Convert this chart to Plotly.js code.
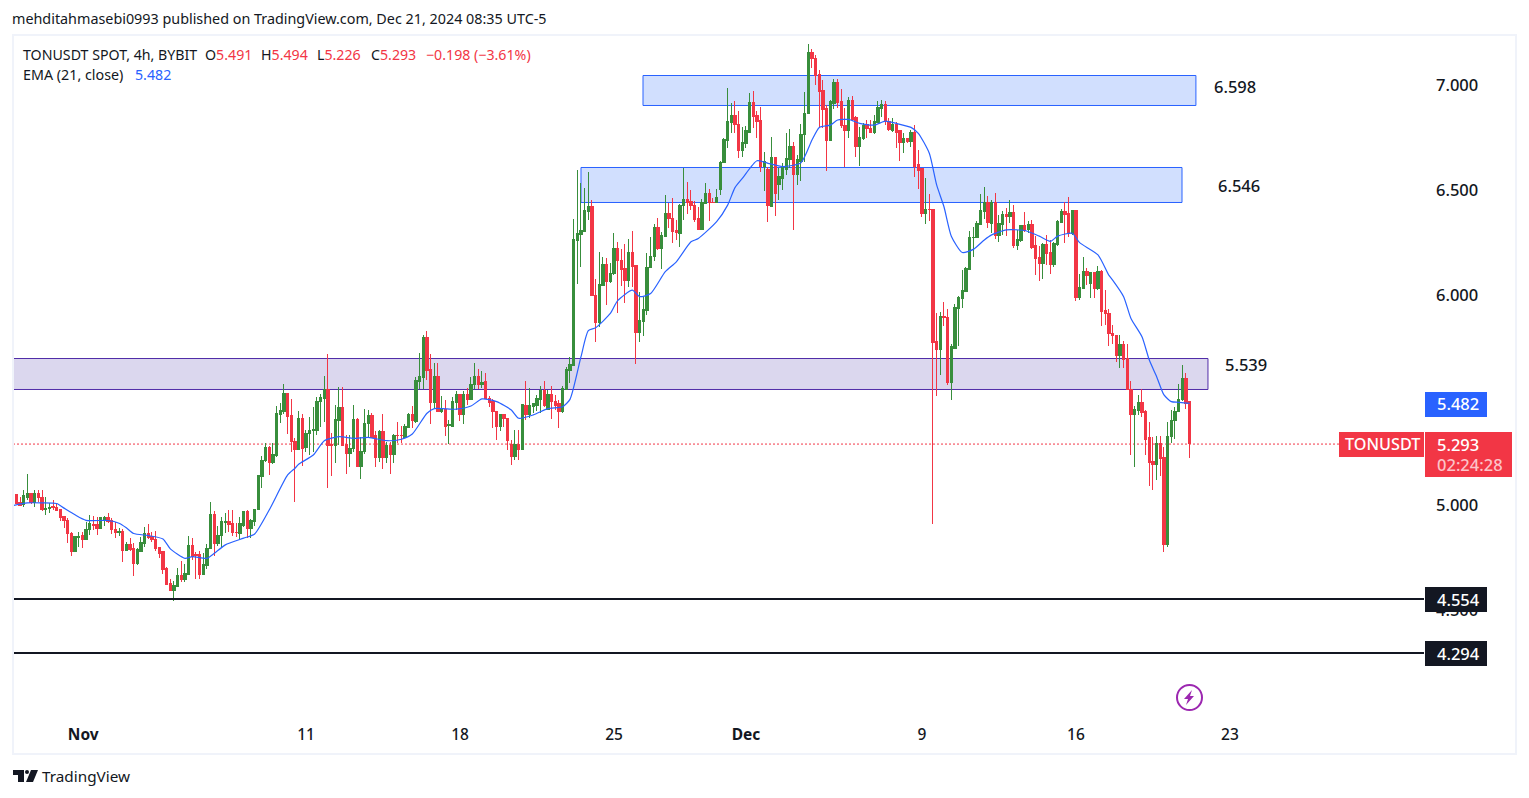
<!DOCTYPE html>
<html>
<head>
<meta charset="utf-8">
<script src="https://cdn.plot.ly/plotly-3.0.1.min.js"></script>
<style>
	html, body { margin: 0; padding: 0; background: #fff; overflow: hidden; }
	.trace.boxes path { shape-rendering: crispEdges; }
</style>
</head>
<body>
<div id="chart"></div>
<script>
// TONUSDT 4h candles
const firstBar = Date.UTC(2024, 9, 28, 16);
const barHours = 4;

const high = [
	5.077,5.053,5.037,5.072,5.148,5.056,5.069,5.072,5.069,5.037,
	5.008,5.024,5.008,4.980,4.948,4.937,4.869,4.850,4.873,4.873,
	4.921,4.951,4.948,4.942,4.945,4.948,4.964,4.937,4.921,4.889,
	4.885,4.826,4.842,4.818,4.793,4.846,4.894,4.910,4.873,4.875,
	4.802,4.783,4.704,4.646,4.637,4.700,4.732,4.720,4.853,4.842,
	4.777,4.783,4.770,4.815,5.015,4.969,4.900,4.945,4.962,4.977,
	4.977,4.916,4.945,4.973,4.977,4.932,4.980,5.143,5.231,5.297,
	5.281,5.294,5.469,5.484,5.577,5.535,5.504,5.318,5.446,5.434,
	5.357,5.418,5.468,5.516,5.529,5.614,5.719,5.341,5.476,5.564,
	5.564,5.333,5.333,5.476,5.413,5.322,5.456,5.452,5.437,5.354,
	5.357,5.433,5.302,5.299,5.338,5.395,5.376,5.384,5.440,5.472,
	5.611,5.725,5.810,5.829,5.719,5.675,5.675,5.519,5.500,5.405,
	5.513,5.543,5.524,5.543,5.556,5.611,5.678,5.646,5.640,5.630,
	5.519,5.503,5.449,5.433,5.430,5.416,5.310,5.357,5.357,5.479,
	5.591,5.556,5.484,5.524,5.567,5.591,5.548,5.567,5.524,5.500,
	5.567,5.656,5.706,6.360,6.595,6.531,6.511,6.584,6.452,6.074,
	6.204,6.179,6.176,6.150,6.293,6.250,6.219,6.242,6.265,6.304,
	6.142,6.016,5.992,6.198,6.277,6.338,6.365,6.301,6.476,6.436,
	6.463,6.357,6.433,6.607,6.536,6.500,6.447,6.420,6.455,6.531,
	6.507,6.460,6.507,6.639,6.746,6.988,6.912,6.923,6.877,6.801,
	6.804,6.960,6.971,6.877,6.893,6.682,6.611,6.754,6.658,6.603,
	6.627,6.770,6.790,6.730,6.666,6.814,6.968,7.195,7.170,7.143,
	7.071,7.024,6.905,6.928,7.030,7.027,6.979,6.889,6.944,6.947,
	6.852,6.798,6.817,6.833,6.833,6.857,6.924,6.928,6.924,6.841,
	6.841,6.825,6.786,6.770,6.746,6.786,6.809,6.690,6.606,6.555,
	6.481,6.410,5.913,5.920,5.967,5.935,5.767,5.958,5.996,6.120,
	6.132,6.305,6.323,6.351,6.481,6.513,6.472,6.453,6.485,6.383,
	6.399,6.413,6.453,6.429,6.310,6.334,6.394,6.350,6.358,6.281,
	6.231,6.246,6.286,6.262,6.254,6.358,6.408,6.442,6.465,6.405,
	6.405,6.100,6.180,6.127,6.107,6.107,6.139,6.120,6.024,5.932,
	5.857,5.809,5.809,5.781,5.766,5.589,5.471,5.523,5.550,5.452,
	5.395,5.325,5.328,5.328,5.278,5.395,5.452,5.468,5.576,5.666,5.628,5.494
];
const low = [
	5.005,5.005,4.996,4.992,5.024,5.005,4.992,5.015,4.973,4.954,
	4.964,4.977,4.969,4.926,4.888,4.821,4.758,4.777,4.802,4.794,
	4.831,4.858,4.881,4.858,4.885,4.900,4.913,4.862,4.843,4.853,
	4.729,4.780,4.783,4.662,4.716,4.777,4.802,4.840,4.826,4.783,
	4.748,4.672,4.618,4.589,4.545,4.608,4.634,4.635,4.667,4.739,
	4.646,4.646,4.667,4.694,4.789,4.758,4.805,4.799,4.866,4.869,
	4.850,4.846,4.834,4.897,4.842,4.843,4.900,4.977,5.081,5.205,
	5.143,5.196,5.227,5.392,5.434,5.338,5.254,5.016,5.262,5.186,
	5.253,5.238,5.254,5.333,5.373,5.397,5.083,5.140,5.202,5.286,
	5.281,5.148,5.183,5.254,5.180,5.124,5.243,5.322,5.322,5.183,
	5.207,5.172,5.199,5.148,5.202,5.297,5.294,5.319,5.365,5.365,
	5.389,5.551,5.551,5.595,5.386,5.460,5.445,5.440,5.329,5.291,
	5.373,5.452,5.402,5.386,5.476,5.500,5.552,5.551,5.556,5.503,
	5.465,5.368,5.310,5.354,5.373,5.262,5.191,5.214,5.214,5.262,
	5.405,5.413,5.437,5.449,5.440,5.465,5.452,5.408,5.452,5.368,
	5.437,5.548,5.579,5.662,6.052,6.135,6.301,6.357,5.996,5.777,
	5.849,6.047,5.952,6.055,6.095,5.916,6.042,5.963,6.039,6.036,
	5.671,5.777,5.804,5.904,6.127,6.163,6.214,6.123,6.274,6.317,
	6.249,6.262,6.230,6.357,6.385,6.404,6.349,6.314,6.314,6.436,
	6.354,6.436,6.436,6.476,6.627,6.701,6.769,6.769,6.652,6.655,
	6.700,6.776,6.796,6.746,6.587,6.496,6.349,6.420,6.377,6.452,
	6.500,6.571,6.603,6.309,6.524,6.543,6.635,6.862,7.079,7.000,
	6.798,6.793,6.590,6.735,6.885,6.889,6.793,6.608,6.746,6.836,
	6.655,6.614,6.738,6.749,6.770,6.765,6.817,6.846,6.809,6.782,
	6.778,6.700,6.638,6.678,6.722,6.706,6.563,6.505,6.373,6.338,
	6.352,4.910,5.520,5.620,5.850,5.572,5.501,5.742,5.758,5.939,
	6.015,6.120,6.180,6.270,6.332,6.361,6.318,6.294,6.266,6.250,
	6.286,6.283,6.342,6.223,6.212,6.254,6.302,6.294,6.218,6.096,
	6.067,6.078,6.143,6.100,6.135,6.235,6.342,6.246,6.278,6.286,
	5.972,5.977,6.027,6.048,5.986,5.986,6.024,5.850,5.858,5.758,
	5.766,5.682,5.652,5.652,5.549,5.238,5.182,5.430,5.420,5.238,
	5.090,5.071,5.119,5.138,4.776,4.801,5.297,5.314,5.443,5.497,5.457,5.226
];
const open = [
	5.008,5.048,5.013,5.000,5.037,5.056,5.012,5.053,5.037,4.977,
	4.983,4.991,4.989,4.977,4.943,4.927,4.866,4.778,4.846,4.853,
	4.834,4.881,4.908,4.908,4.886,4.932,4.942,4.924,4.885,4.869,
	4.872,4.781,4.810,4.791,4.720,4.780,4.815,4.866,4.850,4.837,
	4.799,4.777,4.696,4.624,4.591,4.612,4.662,4.646,4.669,4.805,
	4.762,4.762,4.667,4.710,4.791,4.953,4.818,4.853,4.915,4.919,
	4.910,4.870,4.862,4.904,4.967,4.886,4.921,4.977,5.135,5.210,
	5.275,5.202,5.234,5.429,5.445,5.529,5.424,5.304,5.265,5.410,
	5.275,5.338,5.354,5.357,5.491,5.506,5.551,5.286,5.283,5.400,
	5.465,5.287,5.246,5.267,5.405,5.183,5.253,5.386,5.424,5.329,
	5.224,5.352,5.227,5.281,5.238,5.333,5.333,5.322,5.370,5.433,
	5.397,5.586,5.605,5.798,5.643,5.487,5.611,5.443,5.457,5.378,
	5.376,5.489,5.524,5.429,5.524,5.500,5.572,5.614,5.576,5.586,
	5.506,5.492,5.445,5.376,5.429,5.413,5.287,5.233,5.287,5.262,
	5.476,5.432,5.468,5.472,5.500,5.543,5.457,5.524,5.495,5.481,
	5.443,5.548,5.640,5.662,6.258,6.290,6.304,6.396,6.423,5.999,
	5.871,6.047,6.146,6.066,6.100,6.223,6.166,6.128,6.071,6.204,
	6.138,5.819,5.876,5.928,6.130,6.182,6.319,6.223,6.277,6.390,
	6.366,6.306,6.295,6.425,6.457,6.447,6.428,6.365,6.314,6.438,
	6.485,6.442,6.439,6.504,6.630,6.738,6.822,6.857,6.814,6.690,
	6.719,6.776,6.915,6.857,6.830,6.611,6.598,6.423,6.655,6.524,
	6.557,6.598,6.646,6.705,6.576,6.638,6.762,6.862,7.157,7.128,
	7.051,6.976,6.889,6.735,6.914,7.014,6.919,6.809,6.781,6.924,
	6.843,6.705,6.746,6.812,6.795,6.776,6.820,6.890,6.905,6.828,
	6.782,6.814,6.781,6.725,6.743,6.730,6.776,6.619,6.600,6.387,
	6.409,6.408,5.777,5.739,5.897,5.891,5.582,5.747,5.934,5.983,
	6.015,6.121,6.272,6.272,6.334,6.396,6.442,6.342,6.442,6.281,
	6.334,6.381,6.372,6.391,6.234,6.258,6.329,6.310,6.334,6.234,
	6.177,6.148,6.242,6.200,6.143,6.240,6.343,6.396,6.386,6.294,
	6.400,5.986,6.029,6.110,6.053,6.105,6.029,6.110,5.924,5.913,
	5.817,5.809,5.711,5.762,5.696,5.549,5.430,5.452,5.490,5.443,
	5.319,5.205,5.195,5.295,5.224,4.814,5.324,5.400,5.443,5.500,5.604,5.491
];
const close = [
	5.048,5.008,4.999,5.043,5.056,5.013,5.053,5.034,4.977,4.985,
	4.989,4.986,4.973,4.940,4.926,4.862,4.778,4.850,4.851,4.834,
	4.885,4.910,4.904,4.886,4.939,4.942,4.921,4.881,4.867,4.873,
	4.781,4.810,4.786,4.720,4.786,4.819,4.866,4.843,4.834,4.794,
	4.770,4.691,4.620,4.591,4.615,4.662,4.643,4.672,4.805,4.754,
	4.758,4.667,4.715,4.794,4.953,4.818,4.856,4.919,4.919,4.907,
	4.869,4.867,4.910,4.967,4.886,4.924,4.980,5.138,5.211,5.275,
	5.202,5.239,5.434,5.448,5.529,5.421,5.300,5.265,5.410,5.270,
	5.342,5.357,5.360,5.495,5.510,5.551,5.283,5.283,5.405,5.465,
	5.281,5.246,5.270,5.405,5.183,5.257,5.389,5.424,5.322,5.224,
	5.352,5.227,5.281,5.238,5.333,5.330,5.330,5.376,5.433,5.400,
	5.592,5.611,5.798,5.640,5.489,5.611,5.445,5.456,5.373,5.383,
	5.495,5.524,5.429,5.524,5.500,5.575,5.614,5.576,5.583,5.508,
	5.487,5.445,5.376,5.429,5.413,5.306,5.233,5.287,5.265,5.478,
	5.433,5.472,5.481,5.506,5.543,5.476,5.524,5.492,5.476,5.445,
	5.556,5.643,5.667,6.262,6.293,6.309,6.400,6.423,5.996,5.871,
	6.050,6.146,6.066,6.103,6.223,6.163,6.123,6.071,6.204,6.135,
	5.820,5.879,5.933,6.133,6.185,6.319,6.222,6.281,6.390,6.363,
	6.300,6.296,6.428,6.457,6.441,6.425,6.361,6.314,6.441,6.485,
	6.441,6.439,6.465,6.633,6.742,6.825,6.857,6.812,6.690,6.725,
	6.781,6.915,6.852,6.825,6.614,6.636,6.425,6.655,6.481,6.562,
	6.608,6.651,6.705,6.576,6.643,6.766,6.865,7.157,7.124,7.046,
	6.971,6.885,6.738,6.919,7.014,6.916,6.805,6.781,6.924,6.838,
	6.705,6.752,6.809,6.793,6.776,6.828,6.895,6.905,6.825,6.786,
	6.814,6.774,6.725,6.743,6.730,6.776,6.614,6.595,6.387,6.409,
	6.406,5.774,5.739,5.896,5.893,5.582,5.753,5.939,5.986,6.020,
	6.124,6.272,6.275,6.339,6.400,6.442,6.343,6.442,6.281,6.339,
	6.381,6.373,6.391,6.234,6.262,6.329,6.308,6.334,6.227,6.172,
	6.148,6.242,6.196,6.143,6.243,6.348,6.396,6.381,6.291,6.400,
	5.986,6.034,6.110,6.091,6.105,6.029,6.110,5.920,5.910,5.815,
	5.806,5.711,5.762,5.693,5.549,5.430,5.455,5.490,5.439,5.314,
	5.201,5.195,5.295,5.219,4.814,5.328,5.404,5.447,5.504,5.604,5.485,5.293
];

// EMA (21, close), read at these bar numbers
const emaBars = [
	0,4,8,12,14,17,20,26,29,31,33,37,41,43,47,49,53,55,58,63,66,70,75,77,78,82,85,89,93,97,
	102,106,109,113,115,121,125,128,132,136,138,142,146,150,152,155,157,159,163,165,169,171,174,178,181,
	185,187,192,195,197,199,203,206,210,215,218,220,223,225,228,231,235,238,241,245,247,250,252,254,256,
	259,262,265,267,271,276,280,283,285,289,291,296,299,300,303,305,308,310,312,314,316,318,321
];
const emaValues = [
	4.997,5.010,5.010,5.007,4.985,4.953,4.927,4.926,4.913,4.891,4.864,4.854,4.838,4.791,4.746,4.754,4.746,4.770,4.810,4.842,4.862,4.977,5.143,5.175,5.194,5.238,5.306,5.325,5.317,5.322,
	5.306,5.313,5.338,5.437,5.459,5.456,5.471,5.505,5.492,5.452,5.413,5.429,5.459,5.468,5.503,5.706,5.830,5.844,5.912,5.973,6.023,5.992,6.007,6.111,6.158,
	6.253,6.269,6.349,6.428,6.511,6.555,6.639,6.627,6.611,6.630,6.738,6.798,6.809,6.833,6.836,6.817,6.809,6.828,6.817,6.798,6.770,6.675,6.524,6.420,6.280,
	6.202,6.217,6.262,6.286,6.310,6.307,6.280,6.255,6.280,6.294,6.249,6.191,6.093,6.071,5.992,5.888,5.801,5.690,5.611,5.524,5.492,5.489,5.484
];

// drawn zones
const zoneStart = ["2024-11-26 07:40", "2024-11-23 12:00", "2024-10-20 00:00"];
const zoneEnd = ["2024-12-21 10:50", "2024-12-20 19:40", "2024-12-22 00:00"];
const zoneTop = [7.0451, 6.6071, 5.6975];
const zoneBottom = [6.9023, 6.4404, 5.5499];
const zoneFill = ["#d1dffe", "#d1dffe", "#dbd7ee"];
const zoneLine = ["#2962ff", "#2962ff", "#512da8"];
const zoneText = ["6.598", "6.546", "5.539"];
const zoneTextDate = ["2024-12-23 06:00", "2024-12-23 10:20", "2024-12-23 18:00"];
const zoneTextY = [6.995, 6.519, 5.667];

// horizontal levels, nudged onto whole pixels
const levels = [4.552, 4.295];
const priceLine = 5.290;

const yTicks = [7, 6.5, 6, 5, 4.5];
const yTickText = ["7.000", "6.500", "6.000", "5.000", "4.500"];
const xTicks = ["2024-10-31 21:00", "2024-11-11", "2024-11-18", "2024-11-25", "2024-12-01", "2024-12-09", "2024-12-16", "2024-12-23"];
const xTickText = ["<b>Nov</b>", "11", "18", "25", "<b>Dec</b>", "9", "16", "23"];

const green = "#388e3c";
const red = "#f23645";
const blue = "#2962ff";
const ink = "#131722";
const fontName = "Noto Sans, sans-serif";

const pageW = 1529, pageH = 798;
const m = { l: 13, r: 105, t: 35, b: 78 };
const plotW = pageW - m.l - m.r;
const plotH = pageH - m.t - m.b;
const px = (x) => (x - m.l) / plotW;
const py = (y) => 1 - (y - m.t) / plotH;

const barDate = (i) => new Date(firstBar + i * barHours * 3600000).toISOString().slice(0, 16).replace("T", " ");
const times = high.map((v, i) => barDate(i));

// annotations carry about 2px of padding, hence x - 2
const text = (t, x, y, size, color, weight) => ({
	text: t, xref: "paper", yref: "paper", x: px(x - 2), y: py(y),
	xanchor: "left", yanchor: "middle", showarrow: false,
	font: { family: fontName, size: size, color: color, weight: weight || 400 }
});

const paperRect = (x0, y0, x1, y1, fill, line, width) => ({
	type: "rect", xref: "paper", yref: "paper", layer: "above",
	x0: px(x0), x1: px(x1), y0: py(y0), y1: py(y1),
	fillcolor: fill, line: { color: line || fill, width: width === undefined ? 0 : width }
});

let traces = [
	{
		type: "candlestick",
		x: times, open: open, high: high, low: low, close: close,
		increasing: { line: { color: green, width: 1 }, fillcolor: green },
		decreasing: { line: { color: red, width: 1 }, fillcolor: red },
		showlegend: false,
		hoverinfo: "skip"
	},
	{
		type: "scatter",
		mode: "lines",
		x: emaBars.map(barDate),
		y: emaValues,
		line: { color: blue, width: 1.2, shape: "spline", smoothing: 0.6 },
		showlegend: false,
		hoverinfo: "skip"
	}
];

let shapes = [];
zoneStart.forEach((start, i) => {
	shapes.push({
		type: "rect", xref: "x", yref: "y", layer: "below",
		x0: start, x1: zoneEnd[i], y0: zoneBottom[i], y1: zoneTop[i],
		fillcolor: zoneFill[i], line: { color: zoneLine[i], width: 1 }
	});
});
levels.forEach((level) => {
	shapes.push({
		type: "line", xref: "paper", yref: "y", layer: "above",
		x0: 0, x1: 1, y0: level, y1: level,
		line: { color: ink, width: 2 }
	});
});
shapes.push({
	type: "line", xref: "paper", yref: "y", layer: "below",
	x0: 0, x1: 1, y0: priceLine, y1: priceLine,
	line: { color: red, width: 1, dash: "2px,2px" }
});

// frame and the price tags on the axis
shapes.push(paperRect(13, 35, 1516, 754, "rgba(0,0,0,0)", "#f0f3fa", 2));
shapes.push(paperRect(1425, 392, 1487, 417, blue));
shapes.push(paperRect(1339, 432, 1424, 457, red));
shapes.push(paperRect(1425, 432, 1512, 477, red));
shapes.push(paperRect(1425, 587, 1487, 612, ink));
shapes.push(paperRect(1425, 641, 1487, 666, ink));

// TradingView mark
shapes.push({ type: "path", xref: "paper", yref: "paper", layer: "above", fillcolor: ink, line: { width: 0 },
	path: `M${px(13)},${py(770)} L${px(24)},${py(770)} L${px(24)},${py(782)} L${px(18)},${py(782)} L${px(18)},${py(775)} L${px(13)},${py(775)} Z` });
shapes.push({ type: "path", xref: "paper", yref: "paper", layer: "above", fillcolor: ink, line: { width: 0 },
	path: `M${px(31)},${py(770)} L${px(38)},${py(770)} L${px(33)},${py(782)} L${px(26)},${py(782)} Z` });
shapes.push({ type: "circle", xref: "paper", yref: "paper", layer: "above", fillcolor: ink, line: { width: 0 },
	x0: px(25), x1: px(29), y0: py(774), y1: py(770) });

// lightning badge
shapes.push({ type: "circle", xref: "paper", yref: "paper", layer: "above", fillcolor: "rgba(0,0,0,0)",
	line: { color: "#9c27b0", width: 2 }, x0: px(1177), x1: px(1202), y0: py(710), y1: py(685) });
shapes.push({ type: "path", xref: "paper", yref: "paper", layer: "above", fillcolor: "#9c27b0", line: { width: 0 },
	path: `M${px(1192)},${py(690)} L${px(1184)},${py(699)} L${px(1188)},${py(699)} L${px(1186)},${py(705)} L${px(1194)},${py(696)} L${px(1190)},${py(696)} Z` });

let annotations = [
	text("mehditahmasebi0993 published on TradingView.com, Dec 21, 2024 08:35 UTC-5", 12, 19, 14.35, ink),
	text("TONUSDT SPOT, 4h, BYBIT", 23, 54, 14.2, ink),
	text(`O<span style="color:${red}">5.491</span>`, 205, 54, 14.2, ink),
	text(`H<span style="color:${red}">5.494</span>`, 261, 54, 14.2, ink),
	text(`L<span style="color:${red}">5.226</span>`, 317, 54, 14.2, ink),
	text(`C<span style="color:${red}">5.293</span>`, 371, 54, 14.2, ink),
	text("−0.198 (−3.61%)", 426, 54, 14.2, red),
	text("EMA (21, close)", 23, 74, 14.3, ink),
	text("5.482", 135, 74, 14.2, blue),
	text("5.482", 1437, 403, 16.5, "#fff", 500),
	text("TONUSDT", 1345, 444, 16.2, "#fff", 500),
	text("5.293", 1437, 444, 16.5, "#fff", 500),
	text("02:24:28", 1437, 464, 16.5, "#fcc3c9", 500),
	text("4.554", 1437, 599, 16.5, "#fff", 500),
	text("4.294", 1437, 653, 16.5, "#fff", 500),
	text("TradingView", 42, 776, 15.3, ink)
];
zoneText.forEach((label, i) => {
	annotations.push({
		text: label, xref: "x", yref: "y", x: zoneTextDate[i], y: zoneTextY[i],
		showarrow: false, xanchor: "center", yanchor: "middle",
		font: { family: fontName, size: 16.5, color: ink, weight: 500 }
	});
});

let layout = {
	width: pageW,
	height: pageH,
	margin: m,
	paper_bgcolor: "#ffffff",
	plot_bgcolor: "#ffffff",
	showlegend: false,
	boxgap: 0.05,
	font: { family: fontName, color: ink, size: 16 },
	xaxis: {
		type: "date",
		range: ["2024-10-28 16:22", "2024-12-31 19:40"],
		rangeslider: { visible: false },
		showgrid: false, zeroline: false, showline: false,
		ticks: "", tickmode: "array", tickvals: xTicks, ticktext: xTickText,
		ticklabelstandoff: 3,
		tickfont: { family: fontName, size: 15.5, color: ink, weight: 500 }
	},
	yaxis: {
		side: "right",
		range: [3.976, 7.238],
		showgrid: false, zeroline: false, showline: false,
		ticks: "", tickmode: "array", tickvals: yTicks, ticktext: yTickText,
		ticklabelstandoff: 11,
		tickfont: { family: fontName, size: 16.5, color: ink, weight: 500 }
	},
	shapes: shapes,
	annotations: annotations
};

Plotly.newPlot("chart", traces, layout, { displayModeBar: false, responsive: false });
</script>
</body>
</html>
